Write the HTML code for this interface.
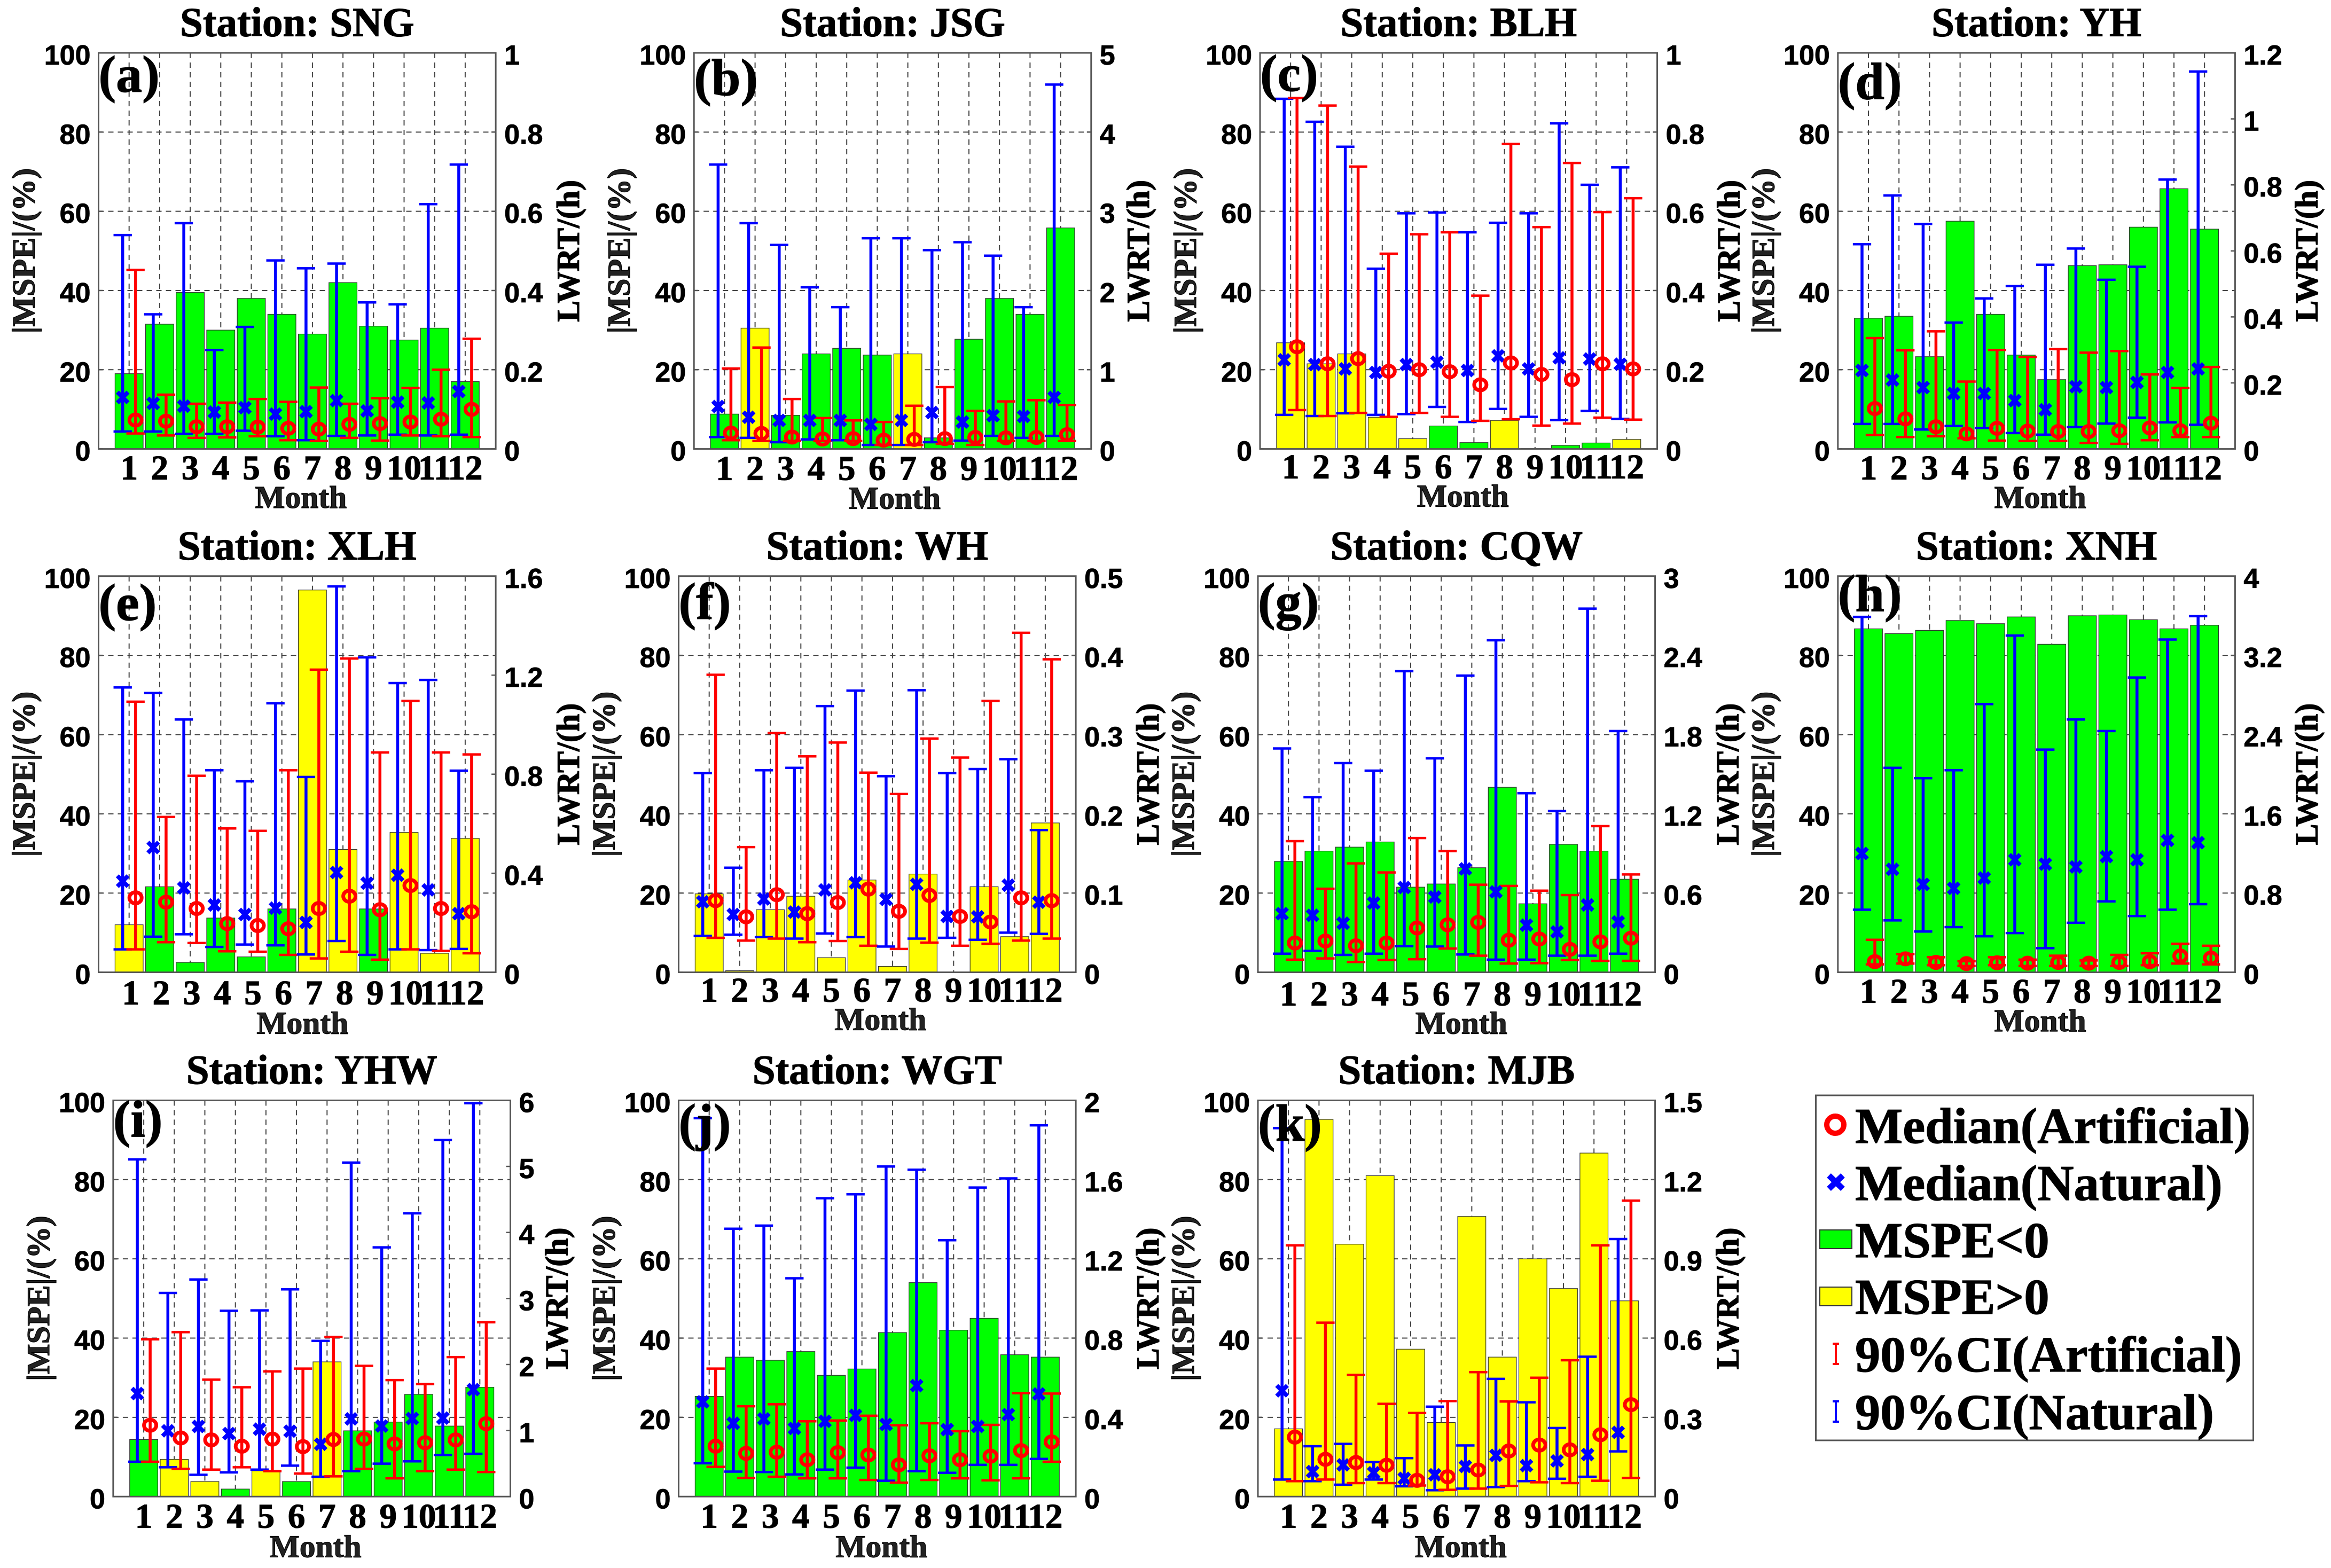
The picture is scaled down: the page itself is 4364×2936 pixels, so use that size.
<!DOCTYPE html>
<html lang="en">
<head>
<meta charset="utf-8">
<title>Monthly MSPE and LWRT by station</title>
<style>
html,body{margin:0;padding:0;background:#fff;}
#chart{display:block;width:4364px;height:2936px;background:#fff;}
.serif{font-family:"Liberation Serif",serif;font-weight:bold;stroke:#000;stroke-width:1.2px;}
.sans{font-family:"Liberation Sans",sans-serif;font-weight:bold;stroke:#000;stroke-width:0.8px;}
</style>
</head>
<body>
<svg id="chart" xmlns="http://www.w3.org/2000/svg" width="4364" height="2936" viewBox="0 0 4364 2936">
  <g id="panels"></g>
  <g>
    <rect x="3399.5" y="2051" width="819" height="646" fill="#fff" stroke="#555" stroke-width="3"/>
    <g>
      <ellipse cx="3436" cy="2106" rx="16" ry="16" fill="none" stroke="#f00" stroke-width="10"/>
      <text class="serif" x="3473" y="2140" font-size="94.5" fill="#000">Median(Artificial)</text>
    </g>
    <g>
      <path d="M3424 2201L3450 2226M3450 2201L3424 2226" stroke="#00f" stroke-width="11" fill="none"/>
      <text class="serif" x="3473" y="2247" font-size="94.5" fill="#000">Median(Natural)</text>
    </g>
    <g>
      <rect x="3407" y="2303" width="60" height="35" fill="#0f0" stroke="#333" stroke-width="2"/>
      <text class="serif" x="3473" y="2354" font-size="94.5" fill="#000">MSPE&lt;0</text>
    </g>
    <g>
      <rect x="3407" y="2410" width="60" height="35" fill="#ff0" stroke="#333" stroke-width="2"/>
      <text class="serif" x="3473" y="2460" font-size="94.5" fill="#000">MSPE&gt;0</text>
    </g>
    <g>
      <path d="M3437 2516V2554M3431 2516H3443M3431 2554H3443" stroke="#f00" stroke-width="4" fill="none"/>
      <text class="serif" x="3473" y="2568" font-size="94.5" fill="#000">90%CI(Artificial)</text>
    </g>
    <g>
      <path d="M3437 2624V2662M3431 2624H3443M3431 2662H3443" stroke="#00f" stroke-width="4" fill="none"/>
      <text class="serif" x="3473" y="2676" font-size="94.5" fill="#000">90%CI(Natural)</text>
    </g>
  </g>
</svg>
<script>
// Shared categories and left-axis ticks
const months = ['1','2','3','4','5','6','7','8','9','10','11','12'];
const leftTicks = [0,20,40,60,80,100];

// SNG
const sngMspe = [-19,-31.5,-39.5,-30,-38,-34,-29,-42,-31,-27.5,-30.5,-17];
const sngNatHi = [54,34,57,25,30.8,47.6,45.6,46.8,37,36.5,61.8,71.8];
const sngNatLo = [4.4,4.4,3.8,3.8,4.6,3.2,2.2,3.3,3.4,3.6,3.4,3.6];
const sngNatMed = [13,11.5,10.8,9.3,10.4,8.8,9.4,12.2,9.6,11.8,11.6,14.5];
const sngArtHi = [45.2,13.7,11.4,11.7,12.6,11.9,15.5,11.4,12.8,15.4,20,27.8];
const sngArtLo = [3.9,3.4,2.8,2.9,3.2,2.2,2,2.8,2.1,3.4,3.2,3];
const sngArtMed = [7.3,7,5.6,5.6,5.5,5.2,5,6.2,6.4,6.8,7.5,10];
const sngRight = ['0','0.2','0.4','0.6','0.8','1'];

// JSG
const jsgMspe = [-8.8,30.5,-8.5,-24,-25.4,-23.7,24,-2.8,-27.7,-38,-34,-55.8];
const jsgNatHi = [71.8,57,51.5,40.8,35.8,53.2,53.2,50.2,52.2,48.8,35.8,92];
const jsgNatLo = [3,2.8,1.7,2.4,2.2,1,1,1.7,2.1,3.3,2.8,3.3];
const jsgNatMed = [10.7,8,7.2,7.2,7.2,6.2,7.2,9.2,6.8,8.4,8.2,13];
const jsgArtHi = [20.3,25.6,12.6,7.8,7.2,6.8,10.9,15.6,9.6,12,12.3,11.1];
const jsgArtLo = [2.2,2,2,2,2,1,1,1.3,1,2,2,2];
const jsgArtMed = [4,3.9,3,2.5,2.6,2.2,2.4,2.6,2.9,2.8,2.9,3.6];
const jsgRight = ['0','1','2','3','4','5'];

// BLH
const blhMspe = [26.8,21.5,24,8,2.6,-5.8,-1.6,7.2,-0.1,-0.9,-1.5,2.4];
const blhNatHi = [88.4,82.6,76.3,45.5,59.5,59.7,54.7,57.1,59.5,82.2,66.7,71.1];
const blhNatLo = [8.6,8.3,9,8.6,8.8,10.6,6.8,10.1,8.1,7.3,9.6,7.6];
const blhNatMed = [22.5,21.3,20.2,19.3,21.3,21.9,19.8,23.5,20.2,23,22.7,21.4];
const blhArtHi = [88.6,86.7,71.3,49.3,54.2,54.7,38.7,77,56,72.2,59.8,63.3];
const blhArtLo = [9.8,8.3,9.1,8.1,9.1,8.1,7.1,7.5,5.9,6.4,7.9,7.4];
const blhArtMed = [25.8,21.5,22.8,19.6,20,19.5,16.2,21.7,18.8,17.5,21.5,20.2];
const blhRight = ['0','0.2','0.4','0.6','0.8','1'];

// YH
const yhMspe = [-33,-33.5,-23.3,-57.5,-34,-23.7,-17.5,-46.3,-46.5,-56,-65.7,-55.5];
const yhNatHi = [51.7,64,56.8,31.9,38,41.1,46.5,50.6,42.7,46,68,95.3];
const yhNatLo = [6.3,6.3,4.9,5.8,5.3,4,3.6,5.5,6.4,7.9,6.7,6.1];
const yhNatMed = [19.8,17.4,15.5,14,14,12.2,9.9,15.7,15.5,16.8,19.3,20.2];
const yhArtHi = [28,24.9,29.7,17,25,23.2,25.2,24.3,24.7,18.8,15.4,20.7];
const yhArtLo = [3.5,3,3.2,2.7,2.1,2,2,1.5,1.3,2.2,3,3];
const yhArtMed = [10.2,7.6,5.6,3.8,5.2,4.5,4.4,4.4,4.6,5.3,4.6,6.5];
const yhRight = ['0','0.2','0.4','0.6','0.8','1','1.2'];

// XLH
const xlhMspe = [12,-21.6,-2.5,-13.7,-3.9,-16,96.5,31,-16,35.3,4.8,33.8];
const xlhNatHi = [71.9,70.5,63.8,51,48.2,67.9,49.3,97.4,79.5,73,73.8,50.9];
const xlhNatLo = [5.8,9,9.6,6.4,7,6.8,4.5,7.9,4.4,5.8,5.6,5.9];
const xlhNatMed = [23,31.5,21.3,17,14.6,16.2,12.6,25.2,22.5,24.5,20.8,14.8];
const xlhArtHi = [68.3,39.2,49.6,36.3,35.7,51,76.4,79.2,55.5,68.5,55.5,55];
const xlhArtLo = [5.8,7.6,7.4,5.3,5.2,4.4,3.5,5.2,3.2,5.8,5.4,4.8];
const xlhArtMed = [18.8,17.7,16.1,12.3,11.8,11,16.1,19.2,15.8,21.9,16.1,15.3];
const xlhRight = ['0','0.4','0.8','1.2','1.6'];

// WH
const whMspe = [19.8,0.4,15.8,19.2,3.7,23.3,1.5,24.8,0,21.6,9,37.7];
const whNatHi = [50.3,26.4,51,51.6,67.2,71.1,49.5,71.2,50.3,51.3,53.8,35.9];
const whNatLo = [9.2,9.5,8.9,8.5,9.8,8.9,6.5,8.5,8.7,8.2,10,9.7];
const whNatMed = [17.8,14.6,18.5,15.2,20.8,22.6,18.4,22.2,14.1,14,22,17.7];
const whArtHi = [75.1,31.6,60.4,54.5,58,50.4,45,59,54.2,68.5,85.7,79];
const whArtLo = [8.7,8,8.5,7.6,7.9,6.7,5.9,7.5,6.7,7.2,8,8.5];
const whArtMed = [18.1,14,19.6,14.8,17.6,21,15.4,19.4,14.1,12.7,18.8,18.1];
const whRight = ['0','0.1','0.2','0.3','0.4','0.5'];

// CQW
const cqwMspe = [-28,-30.6,-31.6,-32.9,-21.5,-22.3,-26.4,-46.7,-17.3,-32.3,-30.6,-23.5];
const cqwNatHi = [56.5,44.2,52.8,50.9,76,54,74.9,83.8,45.2,40.7,91.8,60.9];
const cqwNatLo = [4.7,5.4,4.4,4.7,6.6,6.5,4.5,3.2,3.2,4.2,4.2,4.7];
const cqwNatMed = [14.8,14.4,12.4,17.5,21.4,19,26.1,20.3,11.9,10.2,17,12.7];
const cqwArtHi = [33.1,21.1,27.5,25.2,33.9,30.6,22.1,21.8,20.6,19.5,36.9,24.7];
const cqwArtLo = [3.2,3.5,2.6,3.1,3.3,6,4.2,2.2,2.3,3.1,2.9,2.9];
const cqwArtMed = [7.4,7.9,6.7,7.4,11.2,12,12.6,8.1,8.4,5.8,7.7,8.6];
const cqwRight = ['0','0.6','1.2','1.8','2.4','3'];

// XNH
const xnhMspe = [-86.7,-85.5,-86.3,-88.8,-88,-89.7,-82.8,-90,-90.2,-89,-86.7,-87.6];
const xnhNatHi = [89.7,51.6,49,51,67.7,85,56.2,63.8,60.9,74.4,84,89.9];
const xnhNatLo = [15.8,13.1,10.3,11.4,9.1,9.9,6.1,12.5,17.9,14.2,15.8,17.2];
const xnhNatMed = [30,26,22.2,21.2,23.8,28.4,27.3,26.6,29.2,28.4,33.3,32.7];
const xnhArtHi = [8.2,4.6,3.8,2.8,3.8,3.2,4.2,3,4.4,4.8,7.2,6.7];
const xnhArtLo = [2,2.2,1.8,1.6,1.8,1.6,1.6,1.6,1.6,1.8,2.2,2];
const xnhArtMed = [2.7,3.4,2.5,2.2,2.4,2.3,2.5,2.3,2.5,2.7,4.1,3.6];
const xnhRight = ['0','0.8','1.6','2.4','3.2','4'];

// YHW
const yhwMspe = [-14.4,9.4,3.8,-1.9,6.5,-3.8,34,-16.6,-18.8,-25.8,-17.8,-27.6];
const yhwNatHi = [85.1,51.4,54.8,46.9,47,52.3,39.3,84.3,62.9,71.5,90,99.3];
const yhwNatLo = [8.8,7.4,5.5,6.1,6.8,7.8,5,6.4,8.3,8.9,10.5,10.8];
const yhwNatMed = [26,16.6,17.7,15.9,17,16.5,13.2,19.6,17.8,19.7,19.8,27];
const yhwArtHi = [39.7,41.5,29.5,27.6,31.6,32.3,40.3,33,29.4,28.4,35.2,44];
const yhwArtLo = [8.8,7,6.8,7.4,6.4,5.8,5.1,7,4.6,6.4,6.8,6.2];
const yhwArtMed = [18,14.8,14.3,12.7,14.5,12.6,14.4,14.5,13.3,13.6,14.3,18.4];
const yhwRight = ['0','1','2','3','4','5','6'];

// WGT
const wgtMspe = [-25.3,-35.2,-34.4,-36.6,-30.6,-32.2,-41.4,-54,-42,-45,-35.8,-35.2];
const wgtNatHi = [95.5,67.6,68.4,55.1,75.3,76.3,83.3,82.5,64.7,78,80.3,93.7];
const wgtNatLo = [8.4,6.3,6.2,5.6,6.8,7.3,4,6.4,6,8,8,9.5];
const wgtNatMed = [23.9,18.5,19.6,17.2,19,20.5,18.2,28,16.9,17.7,20.7,25.9];
const wgtArtHi = [32.3,22.8,23.3,19,19.2,20.4,18,18.5,16.5,18.1,26.1,26];
const wgtArtLo = [7.5,4.7,5,4.6,4.6,4.2,3.5,4.2,4.6,4.1,4.6,8.8];
const wgtArtMed = [12.7,10.9,11.2,9.3,11.1,10.5,8,10.3,9.3,10.2,11.6,13.8];
const wgtRight = ['0','0.4','0.8','1.2','1.6','2'];

// MJB
const mjbMspe = [17.1,95.2,63.7,81,37.2,18.7,70.7,35.2,60,52.5,86.7,49.4];
const mjbNatHi = [93,12.7,13.3,8.7,9.7,22.7,12.9,29.7,23.8,17.3,35.3,65];
const mjbNatLo = [4.3,3.9,3,4.3,2.6,1.6,2,2.4,3.9,4.5,5,11.4];
const mjbNatMed = [26.7,6.3,8,6,4.6,5.5,7.6,10.4,7.8,9,10.6,16.2];
const mjbArtHi = [63.4,43.9,30.7,23.4,21.1,24.1,31.4,24,30,34.4,63.4,74.7];
const mjbArtLo = [3.9,4.3,3.4,3.4,2.8,1.7,2,2.7,3.6,3.4,4,4.7];
const mjbArtMed = [15,9.4,8.6,7.9,4.1,5,6.7,11.5,13,11.8,15.6,23.2];
const mjbRight = ['0','0.3','0.6','0.9','1.2','1.5'];

// Panel layout (separate from the data arrays above)
const rows = [{top:99,bottom:840.6},{top:1078.75,bottom:1820.6},{top:2060.4,bottom:2802.25}];
const plotWidth = 743.6;
const panels = [
  {station:'SNG',tag:'(a)',left:184.5,row:0,rightOff:136,letterDy:73,monthDx:0,monthDy:57,xlabelDx:7,xlabelDy:110.5,mspe:sngMspe,natHi:sngNatHi,natLo:sngNatLo,natMed:sngNatMed,artHi:sngArtHi,artLo:sngArtLo,artMed:sngArtMed,right:sngRight},
  {station:'JSG',tag:'(b)',left:1299.2,row:0,rightOff:88,letterDy:79,monthDx:0,monthDy:58,xlabelDx:4,xlabelDy:112,mspe:jsgMspe,natHi:jsgNatHi,natLo:jsgNatLo,natMed:jsgNatMed,artHi:jsgArtHi,artLo:jsgArtLo,artMed:jsgArtMed,right:jsgRight},
  {station:'BLH',tag:'(c)',left:2359,row:0,rightOff:134,letterDy:71,monthDx:0,monthDy:55,xlabelDx:8,xlabelDy:108,mspe:blhMspe,natHi:blhNatHi,natLo:blhNatLo,natMed:blhNatMed,artHi:blhArtHi,artLo:blhArtLo,artMed:blhArtMed,right:blhRight},
  {station:'YH',tag:'(d)',left:3440.8,row:0,rightOff:134,letterDy:86,monthDx:0,monthDy:57,xlabelDx:7,xlabelDy:110.5,mspe:yhMspe,natHi:yhNatHi,natLo:yhNatLo,natMed:yhNatMed,artHi:yhArtHi,artLo:yhArtLo,artMed:yhArtMed,right:yhRight},
  {station:'XLH',tag:'(e)',left:184.5,row:1,rightOff:136,letterDy:82,monthDx:3,monthDy:60,xlabelDx:10,xlabelDy:115,mspe:xlhMspe,natHi:xlhNatHi,natLo:xlhNatLo,natMed:xlhNatMed,artHi:xlhArtHi,artLo:xlhArtLo,artMed:xlhArtMed,right:xlhRight},
  {station:'WH',tag:'(f)',left:1270.5,row:1,rightOff:135,letterDy:80,monthDx:0,monthDy:55,xlabelDx:6,xlabelDy:108,mspe:whMspe,natHi:whNatHi,natLo:whNatLo,natMed:whNatMed,artHi:whArtHi,artLo:whArtLo,artMed:whArtMed,right:whRight},
  {station:'CQW',tag:'(g)',left:2355,row:1,rightOff:136,letterDy:80,monthDx:0,monthDy:62,xlabelDx:9,xlabelDy:115,mspe:cqwMspe,natHi:cqwNatHi,natLo:cqwNatLo,natMed:cqwNatMed,artHi:cqwArtHi,artLo:cqwArtLo,artMed:cqwArtMed,right:cqwRight},
  {station:'XNH',tag:'(h)',left:3440.8,row:1,rightOff:134,letterDy:65,monthDx:0,monthDy:57,xlabelDx:7,xlabelDy:110.5,mspe:xnhMspe,natHi:xnhNatHi,natLo:xnhNatLo,natMed:xnhNatMed,artHi:xnhArtHi,artLo:xnhArtLo,artMed:xnhArtMed,right:xnhRight},
  {station:'YHW',tag:'(i)',left:211.9,row:2,rightOff:87,letterDy:67.5,monthDx:0,monthDy:58,xlabelDx:7,xlabelDy:113,mspe:yhwMspe,natHi:yhwNatHi,natLo:yhwNatLo,natMed:yhwNatMed,artHi:yhwArtHi,artLo:yhwArtLo,artMed:yhwArtMed,right:yhwRight},
  {station:'WGT',tag:'(j)',left:1270.5,row:2,rightOff:135,letterDy:74,monthDx:0,monthDy:58,xlabelDx:8,xlabelDy:113,mspe:wgtMspe,natHi:wgtNatHi,natLo:wgtNatLo,natMed:wgtNatMed,artHi:wgtArtHi,artLo:wgtArtLo,artMed:wgtArtMed,right:wgtRight},
  {station:'MJB',tag:'(k)',left:2355,row:2,rightOff:136,letterDy:75,monthDx:0,monthDy:58,xlabelDx:8,xlabelDy:113,mspe:mjbMspe,natHi:mjbNatHi,natLo:mjbNatLo,natMed:mjbNatMed,artHi:mjbArtHi,artLo:mjbArtLo,artMed:mjbArtMed,right:mjbRight}
];

const SVGNS = 'http://www.w3.org/2000/svg';
const GREEN = '#00ff00', YELLOW = '#ffff00', RED = '#ff0000', BLUE = '#0000ff';

function svgEl(tag, name, parent, attrs, txt) {
  const el = document.createElementNS(SVGNS, tag);
  
  
  for (const k in attrs) el.setAttribute(k, attrs[k]);
  if (txt !== undefined) el.textContent = txt;
  parent.appendChild(el);
  return el;
}

function errorBar(parent, name, x, yHi, yLo, capHalf, color) {
  svgEl('line', name + '-stem', parent, {x1:x, x2:x, y1:yHi, y2:yLo, stroke:color, 'stroke-width':5.5});
  svgEl('line', name + '-cap-high', parent, {x1:x-capHalf, x2:x+capHalf, y1:yHi, y2:yHi, stroke:color, 'stroke-width':4.5});
  svgEl('line', name + '-cap-low', parent, {x1:x-capHalf, x2:x+capHalf, y1:yLo, y2:yLo, stroke:color, 'stroke-width':4.5});
}

function drawPanel(p) {
  const rowBox = rows[p.row];
  const top = rowBox.top, bottom = rowBox.bottom, left = p.left, right = p.left + plotWidth;
  const xScale = function (m) { return left + m * plotWidth / 13; };
  const yScale = function (v) { return bottom - v / 100 * (bottom - top); };
  const rightMax = parseFloat(p.right[p.right.length - 1]);
  const yRight = function (v) { return bottom - v / rightMax * (bottom - top); };
  const unit = plotWidth / 13;

  const g = svgEl('g', 'panel-' + p.station.toLowerCase(), document.getElementById('panels'), {});

  // grid
  const dash = '10 8';
  leftTicks.forEach(function (t) {
    if (t === 0 || t === 100) return;
    svgEl('line', 'grid-line-horizontal', g, {x1:left, x2:right, y1:yScale(t), y2:yScale(t), stroke:'#444', 'stroke-width':2, 'stroke-dasharray':dash});
  });
  months.forEach(function (m, i) {
    const x = xScale(i + 1);
    svgEl('line', 'grid-line-vertical', g, {x1:x, x2:x, y1:top, y2:bottom, stroke:'#444', 'stroke-width':2, 'stroke-dasharray':dash});
  });

  // bars
  months.forEach(function (m, i) {
    const v = p.mspe[i];
    if (v === 0) return;
    const x = xScale(i + 1), h = Math.abs(v);
    svgEl('rect', 'bar-month-' + m, g, {x:x - 0.46 * unit, y:yScale(h), width:0.92 * unit, height:yScale(0) - yScale(h), fill:v < 0 ? GREEN : YELLOW, stroke:'#333', 'stroke-width':1.2});
  });

  // error bars
  months.forEach(function (m, i) {
    const xN = xScale(i + 1 - 0.21), xA = xScale(i + 1 + 0.21);
    errorBar(g, 'ci-natural-month-' + m, xN, yScale(p.natHi[i]), yScale(p.natLo[i]), 0.3 * unit, BLUE);
    errorBar(g, 'ci-artificial-month-' + m, xA, yScale(p.artHi[i]), yScale(p.artLo[i]), 0.3 * unit, RED);
  });

  // medians
  months.forEach(function (m, i) {
    const xN = xScale(i + 1 - 0.21), yN = yScale(p.natMed[i]);
    const xA = xScale(i + 1 + 0.21), yA = yScale(p.artMed[i]);
    svgEl('path', 'median-natural-month-' + m, g, {d:'M' + (xN - 10) + ' ' + (yN - 10) + 'L' + (xN + 10) + ' ' + (yN + 10) + 'M' + (xN + 10) + ' ' + (yN - 10) + 'L' + (xN - 10) + ' ' + (yN + 10), stroke:BLUE, 'stroke-width':8, fill:'none'});
    svgEl('ellipse', 'median-artificial-month-' + m, g, {cx:xA, cy:yA, rx:11.5, ry:10.5, fill:'none', stroke:RED, 'stroke-width':7});
  });

  // frame
  svgEl('rect', 'plot-frame', g, {x:left, y:top, width:plotWidth, height:bottom - top, fill:'none', stroke:'#555', 'stroke-width':3});

  // left axis
  leftTicks.forEach(function (t) {
    const y = yScale(t);
    svgEl('line', 'left-tick-mark', g, {x1:left, x2:left + 8, y1:y, y2:y, stroke:'#555', 'stroke-width':2.5});
    svgEl('text', 'left-tick-label', g, {class:'sans', x:left - 15, y:y + 22, 'font-size':52, 'text-anchor':'end', fill:'#000'}, String(t));
  });

  // right axis
  p.right.forEach(function (t) {
    const y = yRight(parseFloat(t));
    svgEl('line', 'right-tick-mark', g, {x1:right - 8, x2:right, y1:y, y2:y, stroke:'#555', 'stroke-width':2.5});
    svgEl('text', 'right-tick-label', g, {class:'sans', x:right + 16, y:y + 22, 'font-size':52, fill:'#000'}, t);
  });

  // month labels
  months.forEach(function (m, i) {
    svgEl('text', 'month-tick-label', g, {class:'serif', x:xScale(i + 1) + p.monthDx, y:bottom + p.monthDy, 'font-size':65, 'text-anchor':'middle', fill:'#000'}, m);
  });

  // titles
  svgEl('text', 'panel-title', g, {class:'serif', x:(left + right) / 2, y:top - 31.5, 'font-size':77, 'text-anchor':'middle', fill:'#000'}, 'Station: ' + p.station);
  svgEl('text', 'x-axis-title', g, {class:'serif', x:(left + right) / 2 + p.xlabelDx, y:bottom + p.xlabelDy, 'font-size':59.5, 'text-anchor':'middle', fill:'#222'}, 'Month');
  const cy = (top + bottom) / 2;
  const lx = left - 120;
  svgEl('text', 'y-axis-title-left', g, {class:'serif', x:lx, y:cy, 'font-size':60, 'text-anchor':'middle', fill:'#222', transform:'rotate(-90 ' + lx + ' ' + cy + ')'}, '|MSPE|/(%)');
  const rx = right + p.rightOff + 20;
  svgEl('text', 'y-axis-title-right', g, {class:'serif', x:rx, y:cy, 'font-size':60, 'text-anchor':'middle', fill:'#000', transform:'rotate(-90 ' + rx + ' ' + cy + ')'}, 'LWRT/(h)');

  // panel letter
  svgEl('text', 'panel-letter', g, {class:'serif', x:left, y:top + p.letterDy, 'font-size':98, fill:'#000'}, p.tag);
}

panels.forEach(drawPanel);
</script>
</body>
</html>
